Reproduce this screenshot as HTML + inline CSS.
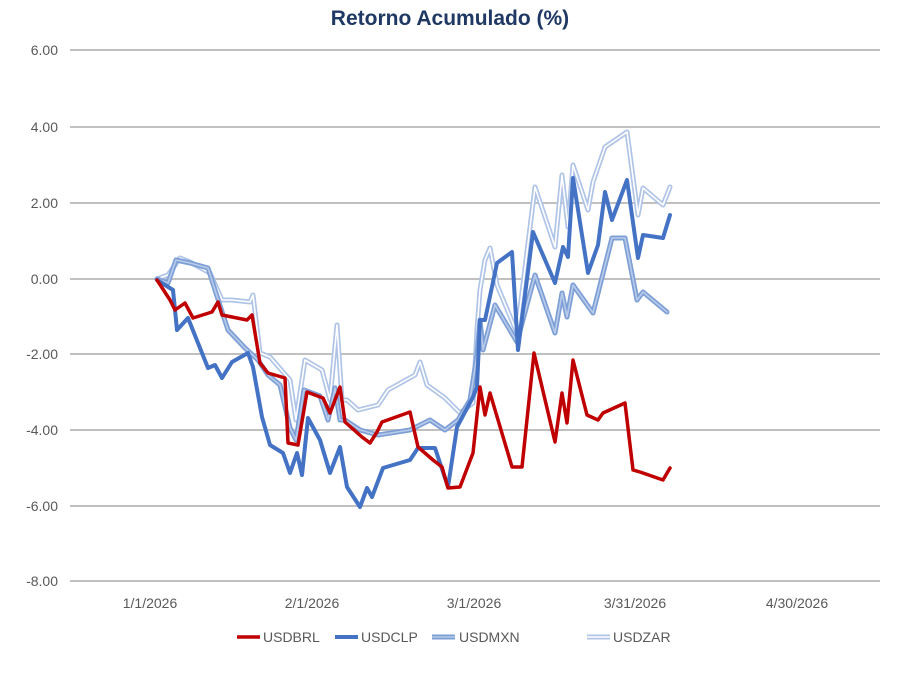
<!DOCTYPE html>
<html><head><meta charset="utf-8"><style>
body{margin:0;background:#fff;width:900px;height:669px;overflow:hidden}
svg text{font-family:"Liberation Sans",Arial,sans-serif}
</style></head><body>
<svg width="900" height="669" viewBox="0 0 900 669">
<text x="450" y="25" text-anchor="middle" font-size="21" font-weight="bold" fill="#1f3864">Retorno Acumulado (%)</text>
<g stroke="#c0c0c0" stroke-width="2">
<line x1="70" y1="50" x2="880" y2="50"/><line x1="70" y1="127" x2="880" y2="127"/>
<line x1="70" y1="203" x2="880" y2="203"/><line x1="70" y1="279" x2="880" y2="279"/>
<line x1="70" y1="354" x2="880" y2="354"/><line x1="70" y1="430" x2="880" y2="430"/>
<line x1="70" y1="506" x2="880" y2="506"/><line x1="70" y1="581" x2="880" y2="581"/>
</g>
<g font-size="14" fill="#595959" text-anchor="end">
<text x="58" y="55">6.00</text><text x="58" y="132">4.00</text><text x="58" y="208">2.00</text>
<text x="58" y="284">0.00</text><text x="58" y="359">-2.00</text><text x="58" y="435">-4.00</text>
<text x="58" y="511">-6.00</text><text x="58" y="586">-8.00</text>
</g>
<g font-size="14" fill="#595959" text-anchor="middle">
<text x="150" y="608">1/1/2026</text><text x="312" y="608">2/1/2026</text><text x="474" y="608">3/1/2026</text>
<text x="635" y="608">3/31/2026</text><text x="797" y="608">4/30/2026</text>
</g>
<g fill="none" stroke-linejoin="round" stroke-linecap="round">
<polyline stroke="#afc4e6" stroke-width="5" points="157,279 168,275 180,258 190,262 210,273 222,300 232,300 250,302 253,295 260,353 270,357 290,380 296,420 305,360 322,370 330,400 337,325 342,400 347,400 358,410 378,405 388,390 415,375 420,362 427,385 445,398 460,413 473,403 477,330 480,290 485,260 490,248 497,285 517,333 535,187 555,247 562,175 568,227 573,165 588,210 593,182 605,147 627,132 638,215 643,188 663,205 670,187"/>
<polyline stroke="#ffffff" stroke-width="1.6" points="157,279 168,275 180,258 190,262 210,273 222,300 232,300 250,302 253,295 260,353 270,357 290,380 296,420 305,360 322,370 330,400 337,325 342,400 347,400 358,410 378,405 388,390 415,375 420,362 427,385 445,398 460,413 473,403 477,330 480,290 485,260 490,248 497,285 517,333 535,187 555,247 562,175 568,227 573,165 588,210 593,182 605,147 627,132 638,215 643,188 663,205 670,187"/>
<polyline stroke="#7d9fd6" stroke-width="5" points="157,279 168,283 176,260 190,263 208,268 215,290 228,330 245,348 258,360 268,375 280,385 290,428 296,440 304,390 320,396 328,420 335,388 340,420 345,420 360,430 378,435 410,430 430,420 445,430 458,420 470,400 477,355 480,320 483,350 495,305 517,342 535,275 555,333 562,293 567,317 573,285 593,313 612,238 625,238 637,300 643,292 667,312"/>
<polyline stroke="#b8cbea" stroke-width="1.6" points="157,279 168,283 176,260 190,263 208,268 215,290 228,330 245,348 258,360 268,375 280,385 290,428 296,440 304,390 320,396 328,420 335,388 340,420 345,420 360,430 378,435 410,430 430,420 445,430 458,420 470,400 477,355 480,320 483,350 495,305 517,342 535,275 555,333 562,293 567,317 573,285 593,313 612,238 625,238 637,300 643,292 667,312"/>
<polyline stroke="#4472c4" stroke-width="4" points="157,280 173,290 177,330 188,318 208,368 215,365 222,378 232,362 248,353 253,367 262,417 270,445 283,453 290,473 297,453 302,475 308,418 320,440 330,473 340,447 347,487 360,507 367,488 372,497 383,468 410,460 418,448 435,448 448,487 457,427 473,397 477,387 480,320 485,320 497,263 512,252 518,350 533,232 555,283 563,247 568,257 573,178 588,273 598,245 605,192 612,220 627,180 638,258 643,235 663,238 670,215"/>
<polyline stroke="#c00000" stroke-width="3.5" points="157,280 170,300 175,310 185,303 193,318 212,312 218,302 222,315 247,320 252,315 260,363 268,373 285,378 288,443 298,445 307,392 323,398 330,413 340,387 345,422 362,437 370,443 377,432 382,422 410,412 418,447 433,460 442,467 448,488 460,487 473,453 480,387 485,415 490,393 512,467 522,467 534,353 555,442 562,393 567,423 573,360 587,415 598,420 603,413 625,403 633,470 640,472 663,480 670,468"/>
</g>
<g font-size="14" fill="#595959">
<line x1="237" y1="637" x2="260" y2="637" stroke="#c00000" stroke-width="3.5"/><text x="263" y="642">USDBRL</text>
<line x1="335" y1="637" x2="358" y2="637" stroke="#4472c4" stroke-width="4"/><text x="361" y="642">USDCLP</text>
<line x1="432" y1="637" x2="455" y2="637" stroke="#7d9fd6" stroke-width="5"/><line x1="432" y1="637" x2="455" y2="637" stroke="#b8cbea" stroke-width="1.6"/><text x="459" y="642">USDMXN</text>
<line x1="587" y1="637" x2="610" y2="637" stroke="#afc4e6" stroke-width="5"/><line x1="587" y1="637" x2="610" y2="637" stroke="#fff" stroke-width="1.6"/><text x="613" y="642">USDZAR</text>
</g>
</svg>
</body></html>
